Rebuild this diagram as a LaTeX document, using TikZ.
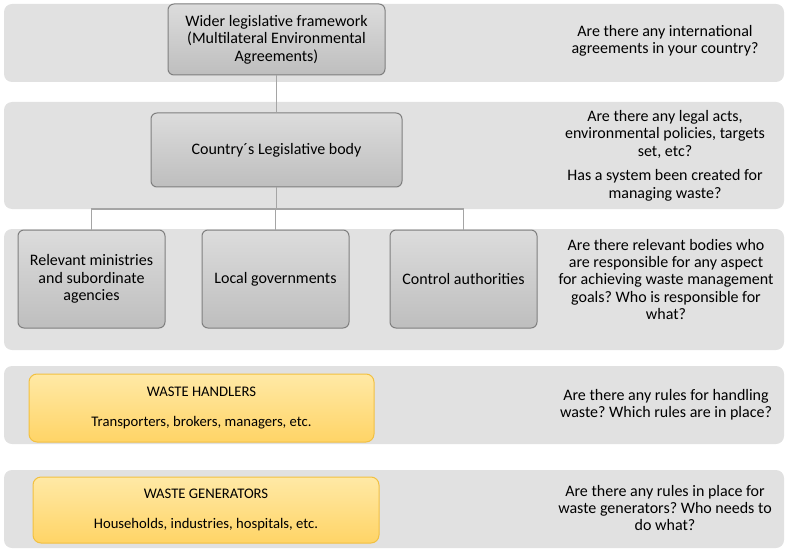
\documentclass[tikz,border=0pt]{standalone}
\usepackage{fontspec}
\setmainfont{Carlito}
\usepackage{tikz}
\usetikzlibrary{calc}
\frenchspacing

\definecolor{bandgray}{HTML}{E1E1E1}
\definecolor{boxtop}{HTML}{DCDCDC}
\definecolor{boxbot}{HTML}{BEBEBE}
\definecolor{boxline}{HTML}{7F7F7F}
\definecolor{waste top}{HTML}{FFE9A6}
\definecolor{waste bot}{HTML}{FFD466}
\definecolor{wasteline}{HTML}{F2C040}
\definecolor{linkgray}{HTML}{A5A5A5}

\begin{document}
\begin{tikzpicture}[
  x=0.75pt, y=-0.75pt,
  font=\fontsize{12}{13.1}\selectfont,
  band/.style={fill=bandgray, rounded corners=6pt},
  govbox/.style={draw=boxline, line width=0.75pt, rounded corners=4.5pt,
    top color=boxtop, bottom color=boxbot, align=center, inner sep=2pt},
  wastebox/.style={draw=wasteline, line width=0.75pt, rounded corners=6pt,
    top color=waste top, bottom color=waste bot, align=center, inner sep=2pt,
    font=\fontsize{11}{13.1}\selectfont},
  question/.style={align=center, inner sep=0pt},
  link/.style={draw=linkgray, line width=1pt}
]
\useasboundingbox (0,0) rectangle (787,552);

% background bands
\fill[band] (4,4) rectangle (784,82);
\fill[band] (4,102) rectangle (784,209);
\fill[band] (4,229) rectangle (784,350);
\fill[band] (4,366) rectangle (784,444);
\fill[band] (4,470) rectangle (784,548);

% hierarchy
\node[govbox, minimum width=217*0.75pt, minimum height=71*0.75pt] (wider) at (276.5,39.5)
  {Wider legislative framework\\(Multilateral Environmental\\Agreements)};
\node[govbox, minimum width=251*0.75pt, minimum height=74*0.75pt] (country) at (276.5,150)
  {Country´s Legislative body};
\node[govbox, minimum width=147*0.75pt, minimum height=98*0.75pt] (ministries) at (91.5,279)
  {Relevant ministries\\and subordinate\\agencies};
\node[govbox, minimum width=147*0.75pt, minimum height=98*0.75pt] (localgov) at (275.5,279)
  {Local governments};
\node[govbox, minimum width=147*0.75pt, minimum height=98*0.75pt] (control) at (463.5,279)
  {Control authorities};
\coordinate (bus) at (276.5,209);

\draw[link] (wider) -- (country);
\draw[link] (country) -- (bus);
\draw[link] (bus) -| (ministries.north);
\draw[link] (bus) -| (control.north);
\draw[link] (bus) -- (bus -| localgov.north) -- (localgov.north);

% actors
\node[wastebox, minimum width=345*0.75pt, minimum height=68*0.75pt] (handlers) at (201.5,408)
  {WASTE HANDLERS\\[9pt]Transporters, brokers, managers, etc.};
\node[wastebox, minimum width=346*0.75pt, minimum height=66*0.75pt] (generators) at (206,510)
  {WASTE GENERATORS\\[9pt]Households, industries, hospitals, etc.};

% questions
\node[question] (q1) at (665,41)
  {Are there any international\\agreements in your country?};
\node[question] (q2) at (665,155.5)
  {Are there any legal acts,\\environmental policies, targets\\set, etc?\\[5.5pt]Has a system been created for\\managing waste?};
\node[question] (q3) at (666,279.5)
  {Are there relevant bodies who\\are responsible for any aspect\\for achieving waste management\\goals? Who is responsible for\\what?};
\node[question] (q4) at (666,404.5)
  {Are there any rules for handling\\waste? Which rules are in place?};
\node[question] (q5) at (665,508)
  {Are there any rules in place for\\waste generators? Who needs to\\do what?};
\end{tikzpicture}
\end{document}
